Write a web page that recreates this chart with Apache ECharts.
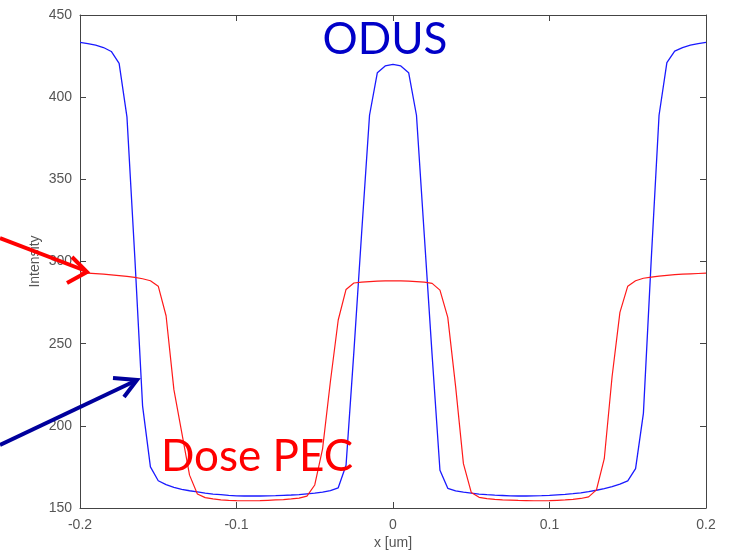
<!DOCTYPE html>
<html>
<head>
<meta charset="utf-8">
<script src="https://cdn.jsdelivr.net/npm/echarts@6/dist/echarts.min.js"></script>
<style>
html, body { margin: 0; padding: 0; background: #fff; }
#show { width: 735px; height: 552px; }
</style>
</head>
<body>
<div id="show"></div>
<script>
var myChart = echarts.init(document.getElementById("show"));

// x positions [um]
var xs = [
    -0.200, -0.195, -0.190, -0.185, -0.180, -0.175, -0.170, -0.165, -0.160, -0.155,
    -0.150, -0.145, -0.140, -0.135, -0.130, -0.125, -0.120, -0.115, -0.110, -0.105,
    -0.100, -0.095, -0.090, -0.085, -0.080, -0.075, -0.070, -0.065, -0.060, -0.055,
    -0.050, -0.045, -0.040, -0.035, -0.030, -0.025, -0.020, -0.015, -0.010, -0.005,
    0.000,
    0.005, 0.010, 0.015, 0.020, 0.025, 0.030, 0.035, 0.040, 0.045, 0.050,
    0.055, 0.060, 0.065, 0.070, 0.075, 0.080, 0.085, 0.090, 0.095, 0.100,
    0.105, 0.110, 0.115, 0.120, 0.125, 0.130, 0.135, 0.140, 0.145, 0.150,
    0.155, 0.160, 0.165, 0.170, 0.175, 0.180, 0.185, 0.190, 0.195, 0.200
];

// ODUS intensity (blue)
var odus = [
    433.4, 432.6, 431.6, 430.2, 427.8, 420.6, 388, 303, 212, 175,
    166.6, 164.2, 162.6, 161.4, 160.5, 159.8, 159.1, 158.5, 158.1, 157.7,
    157.4, 157.3, 157.3, 157.3, 157.4, 157.5, 157.7, 157.9, 158.2, 158.6,
    159.0, 159.7, 160.6, 162.3, 176, 245, 318, 389, 414.9, 419,
    420,
    419, 414.9, 389, 316, 243, 173, 162, 160.4, 159.6, 159.0,
    158.5, 158.1, 157.8, 157.6, 157.4, 157.3, 157.3, 157.4, 157.5, 157.7,
    158.0, 158.3, 158.7, 159.2, 159.9, 160.8, 161.8, 163.0, 164.5, 166.5,
    174, 207.6, 301, 389, 421, 428, 430.2, 431.6, 432.6, 433.4
];

// Dose PEC intensity (red)
var dosePec = [
    293.2, 292.9, 292.6, 292.3, 291.9, 291.4, 290.9, 290.3, 289.5, 288.3,
    285, 267, 222, 196, 170, 158.5, 156.3, 155.5, 155.0, 154.7,
    154.5, 154.4, 154.4, 154.5, 154.7, 154.9, 155.1, 155.5, 156, 157.2,
    164, 186, 227, 264.4, 283, 286.9, 287.4, 287.8, 288.1, 288.2,
    288.3,
    288.2, 288.1, 287.8, 287.4, 286.7, 282.6, 266, 224, 177, 159.5,
    156.5, 155.7, 155.3, 155.0, 154.8, 154.6, 154.5, 154.4, 154.4, 154.5,
    154.7, 154.9, 155.3, 155.8, 156.8, 161, 180, 230, 269, 285,
    288.3, 289.8, 290.5, 291.1, 291.6, 292.0, 292.3, 292.5, 292.7, 292.9
];

function pairs(ys) {
    return xs.map(function (x, i) { return [x, ys[i]]; });
}

var axisGray = '#444';
var labelGray = '#555';
var labelFont = { color: labelGray, fontSize: 14, fontFamily: 'Liberation Sans' };

myChart.setOption(option = {
    animation: false,
    grid: { left: 80, right: 29, top: 15, bottom: 44, show: false, outerBoundsMode: 'none', containLabel: false },
    xAxis: [
        {
            type: 'value', min: -0.2, max: 0.2, interval: 0.1,
            name: 'x [um]', nameLocation: 'middle', nameGap: 28, nameMoveOverlap: false,
            nameTextStyle: { color: labelGray, fontSize: 14, fontFamily: 'Liberation Sans' },
            axisLine: { onZero: false, lineStyle: { color: axisGray, width: 1 } },
            axisTick: { inside: true, length: 6, lineStyle: { color: axisGray } },
            axisLabel: Object.assign({ margin: 10 }, labelFont),
            splitLine: { show: false }
        },
        {
            type: 'value', position: 'top', min: -0.2, max: 0.2, interval: 0.1,
            axisLine: { onZero: false, lineStyle: { color: axisGray, width: 1 } },
            axisTick: { inside: true, length: 6, lineStyle: { color: axisGray } },
            axisLabel: { show: false },
            splitLine: { show: false }
        }
    ],
    yAxis: [
        {
            type: 'value', min: 150, max: 450, interval: 50,
            name: 'Intensity', nameLocation: 'middle', nameGap: 38, nameMoveOverlap: false,
            nameTextStyle: { color: labelGray, fontSize: 14, fontFamily: 'Liberation Sans' },
            axisLine: { show: true, onZero: false, lineStyle: { color: axisGray, width: 1 } },
            axisTick: { show: true, inside: true, length: 6, lineStyle: { color: axisGray } },
            axisLabel: Object.assign({ margin: 8 }, labelFont),
            splitLine: { show: false }
        },
        {
            type: 'value', position: 'right', min: 150, max: 450, interval: 50,
            axisLine: { show: true, onZero: false, lineStyle: { color: axisGray, width: 1 } },
            axisTick: { show: true, inside: true, length: 6, lineStyle: { color: axisGray } },
            axisLabel: { show: false },
            splitLine: { show: false }
        }
    ],
    series: [
        {
            name: 'ODUS', type: 'line', data: pairs(odus),
            symbol: 'none', lineStyle: { color: '#1a1aff', width: 1.3 }
        },
        {
            name: 'Dose PEC', type: 'line', data: pairs(dosePec),
            symbol: 'none', lineStyle: { color: '#ff1a1a', width: 1.2 }
        }
    ],
    graphic: [
        {
            type: 'text', z: 100,
            style: { text: 'ODUS', x: 385, y: 40, align: 'center', verticalAlign: 'middle',
                     font: '44px Lato', fill: '#0000c8' }
        },
        {
            type: 'text', z: 100,
            style: { text: 'Dose PEC', x: 257, y: 457, align: 'center', verticalAlign: 'middle',
                     font: '44px Lato', fill: '#ff0000' }
        },
        // red arrow
        { type: 'polyline', z: 100, shape: { points: [[0, 238], [86, 271]] },
          style: { stroke: '#ff0000', lineWidth: 4, fill: null } },
        { type: 'polyline', z: 100, shape: { points: [[72, 257], [87, 272], [67, 283]] },
          style: { stroke: '#ff0000', lineWidth: 4, fill: null } },
        // blue arrow
        { type: 'polyline', z: 100, shape: { points: [[0, 445], [135, 381]] },
          style: { stroke: '#00009c', lineWidth: 4, fill: null } },
        { type: 'polyline', z: 100, shape: { points: [[113, 378], [137, 380], [124, 397]] },
          style: { stroke: '#00009c', lineWidth: 4, fill: null } }
    ]
});
</script>
</body>
</html>
